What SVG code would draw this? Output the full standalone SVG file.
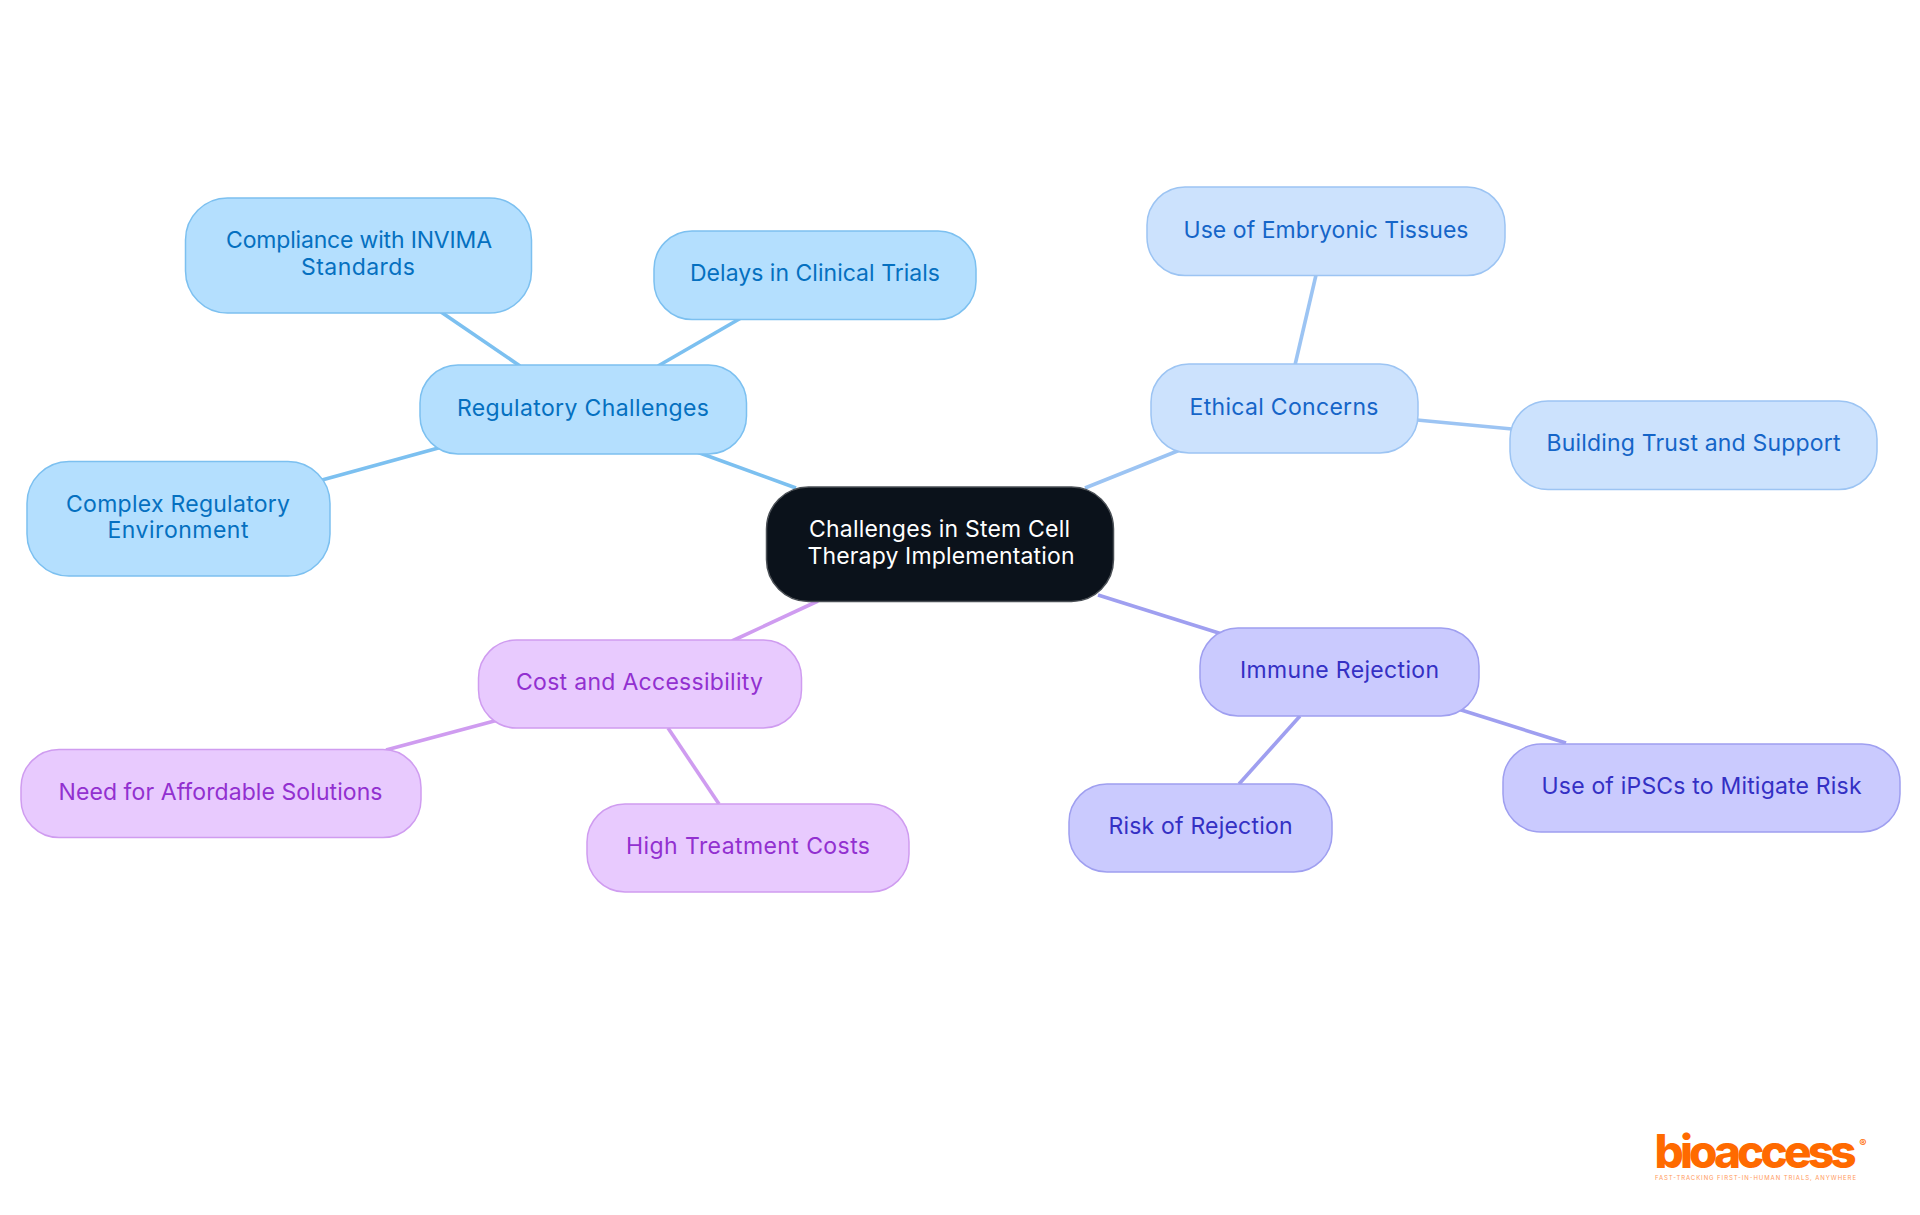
<svg xmlns="http://www.w3.org/2000/svg" width="1920" height="1215" viewBox="0 0 1920 1215">
<style>
text{font-family:"Inter","Noto Sans",sans-serif;font-size:23px;text-anchor:middle}
.n{stroke-width:1.5}
.c line{stroke-width:3.600;fill:none}
.a rect{fill:#b4dffe;stroke:#7cc0f0}.a text{fill:#0570c0}
.b rect{fill:#cce2fd;stroke:#9cc4f3}.b text{fill:#1565c8}
.d rect{fill:#cacafe;stroke:#9f9ff0}.d text{fill:#3430c4}
.e rect{fill:#e8cafe;stroke:#cf9cf0}.e text{fill:#9230d0}
</style>
<rect width="1920" height="1215" fill="#fff"/>
<g id="connectors" class="c">
<line x1="697" y1="452" x2="796" y2="488" stroke="#7cc0f0"/>
<line x1="658" y1="366" x2="741" y2="318" stroke="#7cc0f0"/>
<line x1="520" y1="366" x2="441" y2="312" stroke="#7cc0f0"/>
<line x1="442" y1="447" x2="322" y2="480" stroke="#7cc0f0"/>
<line x1="1085" y1="488" x2="1180" y2="450" stroke="#9cc4f3"/>
<line x1="1295" y1="365" x2="1316" y2="275" stroke="#9cc4f3"/>
<line x1="1417" y1="420" x2="1512" y2="429" stroke="#9cc4f3"/>
<line x1="1098" y1="595" x2="1222" y2="634" stroke="#9f9ff0"/>
<line x1="1458" y1="709" x2="1566" y2="743" stroke="#9f9ff0"/>
<line x1="1300" y1="716" x2="1239" y2="784" stroke="#9f9ff0"/>
<line x1="818" y1="601" x2="732" y2="641" stroke="#cf9cf0"/>
<line x1="498" y1="720" x2="386" y2="750" stroke="#cf9cf0"/>
<line x1="668" y1="728" x2="719" y2="804" stroke="#cf9cf0"/>
</g>
<g id="root"><rect x="766.500" y="487" width="347" height="114.500" rx="42" fill="#0b121b" stroke="#4a4f55" stroke-width="1.500"/><text x="939.500" y="537" fill="#fff" textLength="261">Challenges in Stem Cell</text><text x="941" y="563.500" fill="#fff" textLength="267">Therapy Implementation</text></g>
<g id="regulatory" class="a"><rect class="n" x="420" y="365" width="326.500" height="89" rx="38"/><text x="583" y="416" textLength="252">Regulatory Challenges</text></g>
<g id="compliance" class="a"><rect class="n" x="185.500" y="198" width="346" height="115" rx="42"/><text x="359" y="248" textLength="266">Compliance with INVIMA</text><text x="358" y="275" textLength="114">Standards</text></g>
<g id="delays" class="a"><rect class="n" x="654" y="231" width="322" height="88.500" rx="38"/><text x="815" y="281" textLength="250">Delays in Clinical Trials</text></g>
<g id="complex" class="a"><rect class="n" x="27" y="461.500" width="303" height="114.500" rx="42"/><text x="178" y="512" textLength="224">Complex Regulatory</text><text x="178" y="538" textLength="141">Environment</text></g>
<g id="ethical" class="b"><rect class="n" x="1151" y="364" width="267" height="89" rx="38"/><text x="1284" y="415" textLength="189">Ethical Concerns</text></g>
<g id="embryonic" class="b"><rect class="n" x="1147" y="187" width="358" height="88.500" rx="38"/><text x="1326" y="238" textLength="285">Use of Embryonic Tissues</text></g>
<g id="building" class="b"><rect class="n" x="1510" y="401" width="367" height="88.500" rx="38"/><text x="1693.500" y="451" textLength="294">Building Trust and Support</text></g>
<g id="immune" class="d"><rect class="n" x="1200" y="628" width="279" height="88" rx="38"/><text x="1339.500" y="678" textLength="199">Immune Rejection</text></g>
<g id="ipsc" class="d"><rect class="n" x="1503" y="744" width="397" height="88" rx="38"/><text x="1701.500" y="794" textLength="320">Use of iPSCs to Mitigate Risk</text></g>
<g id="risk" class="d"><rect class="n" x="1069" y="784" width="263" height="88" rx="38"/><text x="1200.500" y="834" textLength="184">Risk of Rejection</text></g>
<g id="cost" class="e"><rect class="n" x="478.500" y="640" width="323" height="88" rx="38"/><text x="639.500" y="690" textLength="247">Cost and Accessibility</text></g>
<g id="need" class="e"><rect class="n" x="21" y="749.500" width="400" height="88" rx="38"/><text x="220.500" y="800" textLength="324">Need for Affordable Solutions</text></g>
<g id="high" class="e"><rect class="n" x="587" y="804" width="322" height="88" rx="38"/><text x="748" y="854" textLength="244">High Treatment Costs</text></g>
<g id="logo"><text x="1755.500" y="1168" textLength="202" style="font-size:46px;font-weight:800;fill:#ff6a00">bioaccess</text><text x="1863" y="1147" style="font-size:11px;font-weight:700;fill:#ff6a00">®</text><text x="1755.500" y="1180" textLength="201" style="font-size:6px;fill:#ff9a5c">FAST-TRACKING FIRST-IN-HUMAN TRIALS, ANYWHERE</text></g>
</svg>
